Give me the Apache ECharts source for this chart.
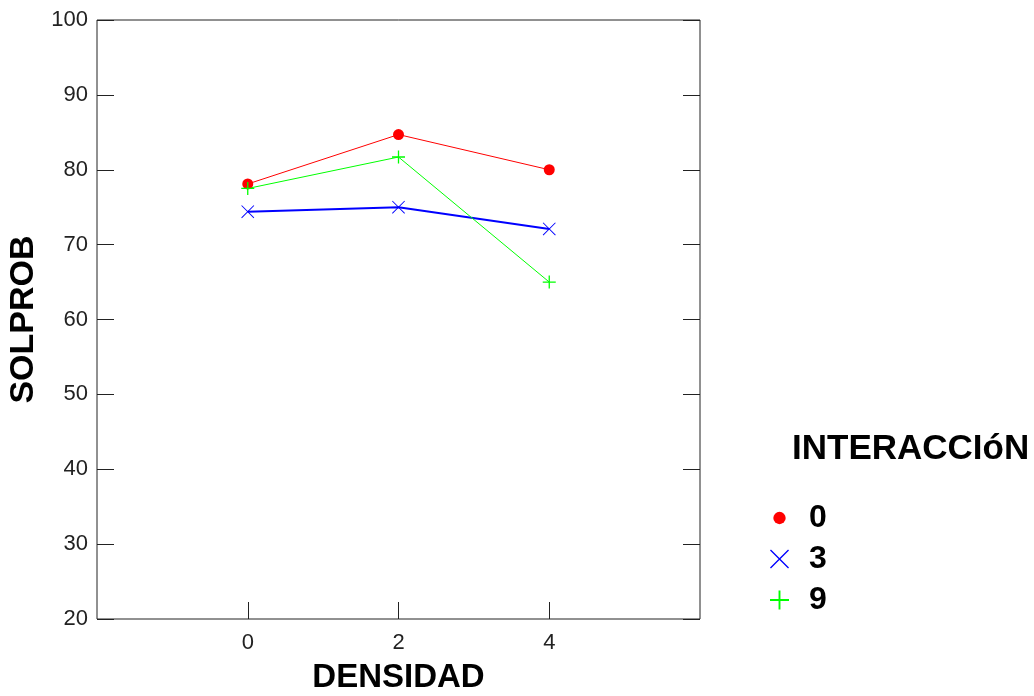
<!DOCTYPE html>
<html>
<head>
<meta charset="utf-8">
<title>SOLPROB por DENSIDAD</title>
<style>
html, body { margin: 0; padding: 0; background: #fff; }
#main { width: 1034px; height: 696px; }
</style>
</head>
<body>
<div id="main"></div>
<script src="https://cdn.jsdelivr.net/npm/echarts@6/dist/echarts.min.js"></script>
<script>
// datos
var densidad = [0, 2, 4];
var grupos = ['0', '3', '9'];
var solprob0 = [78.1, 84.7, 80.0];
var solprob3 = [74.4, 75.0, 72.1];
var solprob9 = [77.5, 81.7, 65.0];
var xTicks = [0, 2, 4];

var plusPath = 'path://M0,9 L20,9 L20,11 L0,11 Z M9,0 L11,0 L11,20 L9,20 Z';
var crossPath = 'path://M0,1 L1,0 L20,19 L19,20 Z M19,0 L20,1 L1,20 L0,19 Z';
// circulo pequeño dentro de una caja de 20x20 para la leyenda
var dotPath = 'path://M0,0 M20,20 M3.5,10 A6.5,6.5 0 1 1 16.5,10 A6.5,6.5 0 1 1 3.5,10 Z';

function pares(vals) {
	var d = [];
	for (var i = 0; i < densidad.length; i++) {
		d.push([densidad[i], vals[i]]);
	}
	return d;
}

var tickFont = "'Liberation Sans', Arial, sans-serif";
var boldFont = "'Liberation Sans', Arial, sans-serif";

var option = {
	animation: false,
	title: {
		text: 'INTERACCIóN',
		left: 787,
		top: 427,
		textStyle: { fontFamily: boldFont, fontWeight: 'bold', fontSize: 35, color: '#000' }
	},
	legend: {
		orient: 'vertical',
		left: 765,
		top: 497,
		itemWidth: 19,
		itemHeight: 19,
		itemGap: 9,
		data: [
			{ name: grupos[0], icon: dotPath },
			{ name: grupos[1], icon: crossPath },
			{ name: grupos[2], icon: plusPath }
		],
		textStyle: {
			fontFamily: boldFont, fontWeight: 'bold', fontSize: 32, color: '#000',
			lineHeight: 32, padding: [0, 0, 0, 15]
		}
	},
	grid: {
		left: 97, right: 334, top: 20, bottom: 77,
		outerBoundsMode: 'none',
		show: true, borderColor: '#222', borderWidth: 1
	},
	xAxis: {
		type: 'value',
		min: -2, max: 6, interval: 2,
		name: 'DENSIDAD',
		nameLocation: 'middle',
		nameGap: 42,
		nameTextStyle: { fontFamily: boldFont, fontWeight: 'bold', fontSize: 33, color: '#000' },
		axisLine: { show: false, onZero: false },
		splitLine: { show: false },
		axisTick: { inside: true, length: 17, customValues: xTicks, lineStyle: { color: '#222' } },
		axisLabel: { customValues: xTicks, margin: 13, fontFamily: tickFont, fontSize: 22, color: '#222' }
	},
	yAxis: [
		{
			type: 'value',
			min: 20, max: 100, interval: 10,
			name: 'SOLPROB',
			nameLocation: 'middle',
			nameGap: 45,
			nameTextStyle: { fontFamily: boldFont, fontWeight: 'bold', fontSize: 34, color: '#000' },
			axisLine: { show: false, onZero: false },
			splitLine: { show: false },
			axisTick: { inside: true, length: 17, lineStyle: { color: '#222' } },
			axisLabel: { margin: 9, fontFamily: tickFont, fontSize: 22, color: '#222' }
		},
		{
			type: 'value',
			position: 'right',
			min: 20, max: 100, interval: 10,
			axisLine: { show: false, onZero: false },
			splitLine: { show: false },
			axisTick: { inside: true, length: 17, lineStyle: { color: '#222' } },
			axisLabel: { show: false }
		}
	],
	series: [
		{
			name: grupos[0], type: 'line', data: pares(solprob0),
			symbol: 'circle', symbolSize: 11,
			itemStyle: { color: '#ff0000' },
			lineStyle: { color: '#ff0000', width: 1 }
		},
		{
			name: grupos[1], type: 'line', data: pares(solprob3),
			symbol: crossPath, symbolSize: 13,
			itemStyle: { color: '#0000ff' },
			lineStyle: { color: '#0000ff', width: 2 }
		},
		{
			name: grupos[2], type: 'line', data: pares(solprob9),
			symbol: plusPath, symbolSize: 13,
			itemStyle: { color: '#00ff00' },
			lineStyle: { color: '#00ff00', width: 1 }
		}
	]
};

var chart = echarts.init(document.getElementById('main'));
chart.setOption(option);
</script>
</body>
</html>
